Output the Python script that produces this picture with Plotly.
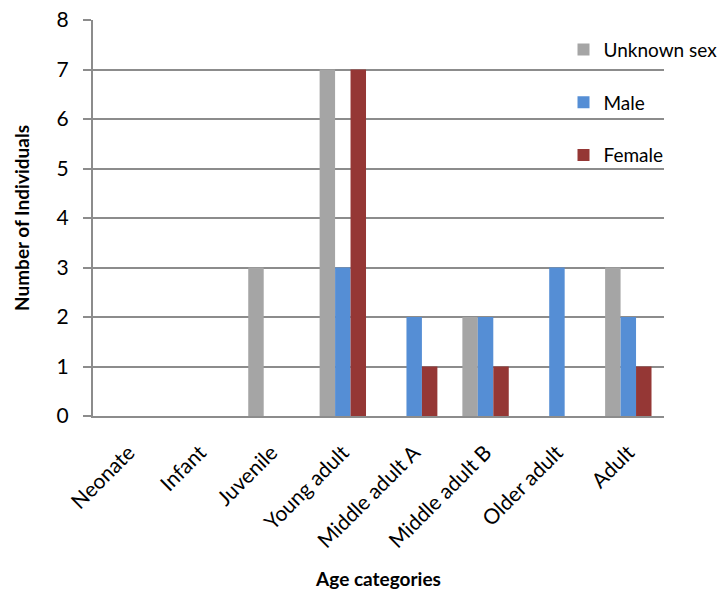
import plotly.graph_objects as go

categories = ["Neonate", "Infant", "Juvenile", "Young adult", "Middle adult A",
              "Middle adult B", "Older adult", "Adult"]
unknown_sex = [0, 0, 3, 7, 0, 2, 0, 3]
male = [0, 0, 0, 3, 2, 2, 3, 2]
female = [0, 0, 0, 7, 1, 1, 0, 1]

series = [("Unknown sex", unknown_sex, "#A5A5A5"),
          ("Male", male, "#558ED5"),
          ("Female", female, "#953735")]

fig = go.Figure()
for i, (name, vals, col) in enumerate(series):
    fig.add_trace(go.Bar(x=categories, y=vals, name=name, marker_color=col,
                         marker_line_width=0, legendgroup=name))

FONT = "Lato, 'Open Sans', sans-serif"
fig.update_layout(
    width=721, height=593,
    margin=dict(l=93, r=57, t=20, b=177, autoexpand=False),
    paper_bgcolor="white", plot_bgcolor="white",
    barmode="group", bargap=0.35, bargroupgap=0,
    font=dict(family=FONT, color="#000000"),
    showlegend=True,
    legend=dict(x=0.824, y=0.973, xanchor="left", yanchor="top",
                font=dict(size=19, family=FONT), bgcolor="rgba(0,0,0,0)",
                tracegroupgap=25, itemwidth=30),
    xaxis=dict(
        showgrid=False, showline=True, linecolor="#8C8C8C", linewidth=2,
        tickangle=-45, tickfont=dict(size=21, family=FONT),
        ticks="", ticklabelstandoff=14,
        title=dict(text="<b>Age categories</b>", font=dict(size=19, family=FONT), standoff=22),
    ),
    yaxis=dict(
        range=[0, 8], dtick=1, showgrid=True, gridcolor="#8C8C8C", gridwidth=1.5,
        showline=True, linecolor="#8C8C8C", linewidth=2, zeroline=False,
        ticks="outside", ticklen=8, tickcolor="#8C8C8C", tickwidth=1.5,
        tickfont=dict(size=21, family=FONT), ticklabelstandoff=10,
        title=dict(text="<b>Number of Individuals</b>", font=dict(size=19, family=FONT), standoff=22),
    ),
)

fig.write_html("out.html")
